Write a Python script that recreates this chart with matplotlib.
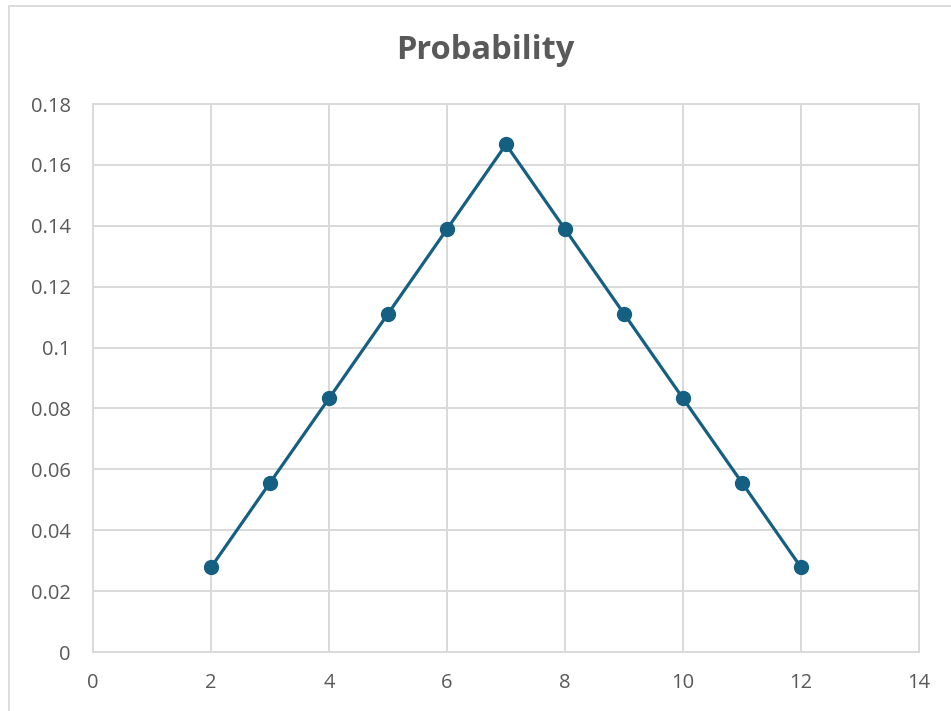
import matplotlib
matplotlib.use("Agg")
import matplotlib.pyplot as plt
from matplotlib.ticker import FuncFormatter, MultipleLocator
from matplotlib.patches import Rectangle

sums = [2, 3, 4, 5, 6, 7, 8, 9, 10, 11, 12]
probability = [0.0278, 0.0556, 0.0833, 0.1111, 0.1389, 0.1667,
               0.1389, 0.1111, 0.0833, 0.0556, 0.0278]
title = "Probability"

plt.rcParams['font.family'] = ['Open Sans', 'DejaVu Sans']

fig = plt.figure(figsize=(9.51, 7.11), dpi=100)
ax = fig.add_axes([93/951, 1-652/711, (919-93)/951, (652-104)/711])

line_color = "#156082"
grid_color = "#d9d9d9"
text_color = "#595959"

ax.plot(sums, probability, color=line_color, lw=2.3, marker='o', ms=10,
        markeredgecolor=line_color, markerfacecolor=line_color, zorder=3, clip_on=False)

ax.set_xlim(0, 14)
ax.set_ylim(0, 0.18)
ax.xaxis.set_major_locator(MultipleLocator(2))
ax.yaxis.set_major_locator(MultipleLocator(0.02))
ax.yaxis.set_major_formatter(FuncFormatter(lambda v, p: f"{round(v, 4):g}"))
ax.grid(True, color=grid_color, lw=1.4)
ax.set_axisbelow(True)
for s in ax.spines.values():
    s.set_color(grid_color)
    s.set_linewidth(1.4)
ax.tick_params(length=0, labelsize=14.5, labelcolor=text_color)
ax.tick_params(axis='y', pad=16)
ax.tick_params(axis='x', pad=15)

fig.text(485/951, 1-59/711, title, ha='center', va='baseline', fontsize=23.5,
         fontweight='bold', color=text_color)

fig.patches.append(Rectangle((8.5/951, -0.1), 1.2, (711-5.5)/711 + 0.1, transform=fig.transFigure,
                             fill=False, edgecolor=grid_color, lw=1.3))

fig.savefig("out.png", dpi=100)
